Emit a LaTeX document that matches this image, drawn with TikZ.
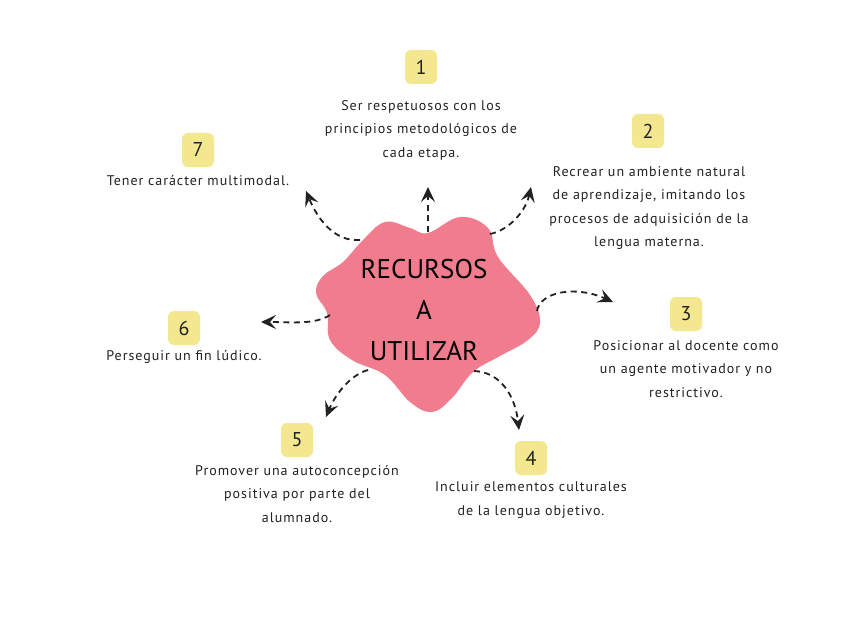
\documentclass[tikz,border=0pt]{standalone}
\usepackage{fontspec}
\setmainfont{PT Sans}
\newfontfamily\descfont[LetterSpace=7]{PT Sans}
\usetikzlibrary{arrows.meta}
\definecolor{blobpink}{HTML}{F07C8D}
\definecolor{numyellow}{HTML}{F3E78F}
\definecolor{inkgray}{HTML}{222222}
\tikzset{
  numbox/.style={fill=numyellow, rounded corners=6pt, minimum width=32pt, minimum height=34pt, inner sep=0pt, text=inkgray, font=\fontsize{20}{22}\selectfont},
  desc/.style={align=center, inner sep=0pt, text=inkgray, font=\descfont\fontsize{14}{23.5}\selectfont},
  dasharrow/.style={draw=inkgray, line width=1.8pt, dash pattern=on 6pt off 4.5pt, -{Stealth[length=15pt,width=14pt,inset=6pt]}},
  coretext/.style={align=center, inner sep=0pt, text=black, font=\fontsize{27}{41}\selectfont}
}
\begin{document}
\begin{tikzpicture}[x=1pt,y=-1pt]
\useasboundingbox (0,0) rectangle (848,636);
\fill[white] (0,0) rectangle (848,636);
% blob
\fill[blobpink] plot[smooth cycle, tension=0.65] coordinates {
 (363,240) (385,222) (410,228) (428,233) (460,217) (488,228) (498,257)
 (530,295) (540,322) (528,340) (500,356) (473,372) (452,398) (432,412)
 (410,402) (385,375) (352,360) (330,340) (327,313) (316,293) (323,276)
 (343,262)};
\node[coretext] (core) at (424,310) {RECURSOS\\A\\UTILIZAR};

% number boxes
\node[numbox] (n1) at (421,67) {1};
\node[numbox] (n2) at (648,131) {2};
\node[numbox] (n3) at (686,314) {3};
\node[numbox] (n4) at (531,458) {4};
\node[numbox] (n5) at (297,440) {5};
\node[numbox] (n6) at (184,328) {6};
\node[numbox] (n7) at (198,150) {7};

% descriptions
\node[desc] (t1) at (421,130) {Ser respetuosos con los\\principios metodológicos de\\cada etapa.};
\node[desc] (t2) at (649,208) {Recrear un ambiente natural\\de aprendizaje, imitando los\\procesos de adquisición de la\\lengua materna.};
\node[desc] (t3) at (686,369) {Posicionar al docente como\\un agente motivador y no\\restrictivo.};
\node[desc] (t4) at (531,500) {Incluir elementos culturales\\de la lengua objetivo.};
\node[desc] (t5) at (297,494) {Promover una autoconcepción\\positiva por parte del\\alumnado.};
\node[desc] (t6) at (184,357) {Perseguir un fin lúdico.};
\node[desc] (t7) at (198,181) {Tener carácter multimodal.};

% arrow endpoints
\coordinate (s1) at (428,232); \coordinate (e1) at (428,187);
\coordinate (s2) at (490,234); \coordinate (e2) at (531,187);
\coordinate (s3) at (537,311); \coordinate (e3) at (613,302);
\coordinate (s4) at (474,371); \coordinate (e4) at (519,430);
\coordinate (s5) at (368,370); \coordinate (e5) at (326,417);
\coordinate (s6) at (330,315); \coordinate (e6) at (261,322);
\coordinate (s7) at (360,240); \coordinate (e7) at (306,191);

\draw[dasharrow] (s1) -- (e1);
\draw[dasharrow] (s2) .. controls (510,230) and (526,210) .. (e2);
\draw[dasharrow] (s3) .. controls (540,292) and (575,285) .. (e3);
\draw[dasharrow] (s4) .. controls (500,372) and (515,395) .. (e4);
\draw[dasharrow] (s5) .. controls (350,375) and (335,395) .. (e5);
\draw[dasharrow] (s6) .. controls (315,325) and (290,322) .. (e6);
\draw[dasharrow] (s7) .. controls (335,242) and (318,220) .. (e7);
\end{tikzpicture}
\end{document}
